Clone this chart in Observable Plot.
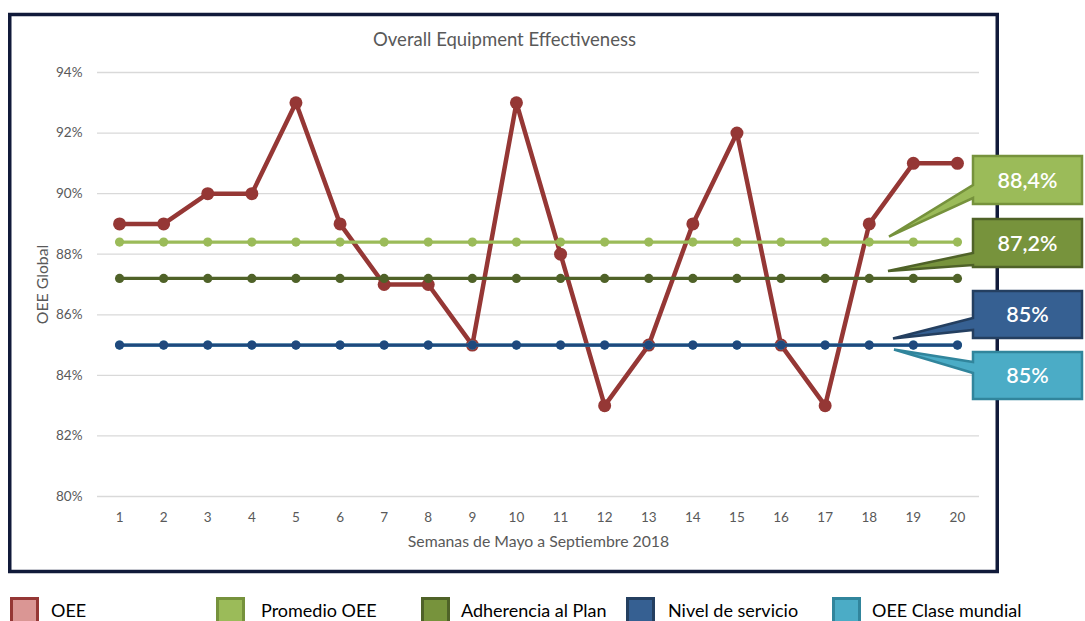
<!DOCTYPE html>
<html>
<head>
<meta charset="utf-8">
<script src="https://cdn.jsdelivr.net/npm/d3@7"></script>
<script src="https://cdn.jsdelivr.net/npm/@observablehq/plot@0.6"></script>
<style>
  html, body { margin: 0; padding: 0; background: #fff; overflow: hidden; }
  #wrap { position: relative; width: 1085px; height: 621px; font-family: Lato, "Open Sans", sans-serif; }
  #legend { position: absolute; left: 0; top: 590px; width: 1085px; height: 31px; }
  .item { position: absolute; top: 7px; height: 29px; }
  .sw { position: absolute; top: 0; width: 23px; height: 23px; border: 3px solid; }
  .lab { position: absolute; top: 2px; font-size: 18px; color: #000; white-space: nowrap; line-height: 22px; }
</style>
</head>
<body>
<div id="wrap"><div id="chart"></div><div id="legend"></div></div>
<script>
// ---------- data ----------
const weeks = [1,2,3,4,5,6,7,8,9,10,11,12,13,14,15,16,17,18,19,20];
const oee = [89,89,90,90,93,89,87,87,85,93,88,83,85,89,92,85,83,89,91,91];
const promedioOEE = [88.4,88.4,88.4,88.4,88.4,88.4,88.4,88.4,88.4,88.4,88.4,88.4,88.4,88.4,88.4,88.4,88.4,88.4,88.4,88.4];
const adherencia = [87.2,87.2,87.2,87.2,87.2,87.2,87.2,87.2,87.2,87.2,87.2,87.2,87.2,87.2,87.2,87.2,87.2,87.2,87.2,87.2];
const nivelServicio = [85,85,85,85,85,85,85,85,85,85,85,85,85,85,85,85,85,85,85,85];
const claseMundial = [85,85,85,85,85,85,85,85,85,85,85,85,85,85,85,85,85,85,85,85];
const yTicks = [80,82,84,86,88,90,92,94];
const seriesNames = ["OEE","Promedio OEE","Adherencia al Plan","Nivel de servicio","OEE Clase mundial"];
const title = "Overall Equipment Effectiveness";
const xTitle = "Semanas de Mayo a Septiembre 2018";
const yTitle = "OEE Global";

// ---------- styles ----------
const col = {
  oee: "#953735",
  prom: "#9bbb59",
  adh: "#4f6228",
  niv: "#1f497d",
  cla: "#4bacc6"
};
const toRows = arr => weeks.map((w, i) => ({week: w, v: arr[i]}));
const textCol = "#595959";

const constSeries = [
  {rows: toRows(claseMundial), c: col.cla},
  {rows: toRows(promedioOEE), c: col.prom},
  {rows: toRows(adherencia), c: col.adh},
  {rows: toRows(nivelServicio), c: col.niv}
];

const chart = Plot.plot({
  width: 1085,
  height: 590,
  marginLeft: 97,
  marginRight: 106,
  marginTop: 72,
  marginBottom: 94,
  x: {type: "linear", domain: [0.5, 20.5], axis: null},
  y: {domain: [80, 94], axis: null},
  style: {fontFamily: "Lato, 'Open Sans', sans-serif", background: "white", overflow: "visible"},
  marks: [
    Plot.ruleY(yTicks, {stroke: "#d9d9d9", strokeWidth: 1.3}),
    Plot.text(yTicks, {y: d => d, frameAnchor: "left", dx: -15, textAnchor: "end", lineAnchor: "middle", text: d => d + "%", fill: textCol, fontSize: 13.5}),
    Plot.text(weeks, {x: d => d, frameAnchor: "bottom", dy: 21, lineAnchor: "middle", text: d => String(d), fill: textCol, fontSize: 13.5}),
    Plot.text([xTitle], {frameAnchor: "bottom", dy: 45, lineAnchor: "middle", text: d => d, fill: textCol, fontSize: 15.8}),
    Plot.text([yTitle], {frameAnchor: "left", dx: -55, rotate: -90, textAnchor: "middle", lineAnchor: "middle", text: d => d, fill: textCol, fontSize: 15.8}),
    Plot.text([title], {frameAnchor: "top", dy: -32, dx: -34, lineAnchor: "middle", text: d => d, fill: textCol, fontSize: 18.5}),
    Plot.line(toRows(oee), {x: "week", y: "v", stroke: col.oee, strokeWidth: 4.5}),
    Plot.dot(toRows(oee), {x: "week", y: "v", r: 6.5, fill: col.oee}),
    ...constSeries.flatMap(s => [
      Plot.line(s.rows, {x: "week", y: "v", stroke: s.c, strokeWidth: 3.2}),
      Plot.dot(s.rows, {x: "week", y: "v", r: 4.6, fill: s.c})
    ])
  ]
});

// frame border (chart area)
const svg = d3.select(chart);
svg.insert("rect", ":first-child")
  .attr("x", 9.75).attr("y", 14.5).attr("width", 987.5).attr("height", 557)
  .attr("fill", "none").attr("stroke", "#111a3a").attr("stroke-width", 3.5);

// callouts
const yS = chart.scale("y");
const fmt = v => Number.isInteger(v) ? String(v) : v.toFixed(1).replace(".", ",");
const callouts = [
  {v: promedioOEE[0], fill: "#9bbb59", stroke: "#76923c", top: 156, h: 48, b0: 185, b1: 198, tipX: 889, tipDy: -5},
  {v: adherencia[0], fill: "#77933c", stroke: "#4f6228", top: 219, h: 48, b0: 253, b1: 265, tipX: 888, tipDy: -7},
  {v: nivelServicio[0], fill: "#366092", stroke: "#243f60", top: 291, h: 47, b0: 318, b1: 330, tipX: 893, tipDy: -6},
  {v: claseMundial[0], fill: "#4bacc6", stroke: "#31859c", top: 352, h: 47, b0: 362, b1: 373, tipX: 894, tipDy: 5}
];
const bx0 = 973, bx1 = 1082;
const g = svg.append("g");
callouts.forEach(c => {
  const ty = yS.apply(c.v) + c.tipDy;
  const p = `M${bx0},${c.top} L${bx1},${c.top} L${bx1},${c.top + c.h} L${bx0},${c.top + c.h} L${bx0},${c.b1} L${c.tipX},${ty} L${bx0},${c.b0} Z`;
  g.append("path").attr("d", p).attr("fill", c.fill).attr("stroke", c.stroke).attr("stroke-width", 2.5).attr("stroke-linejoin", "miter");
  g.append("text").attr("x", (bx0 + bx1) / 2).attr("y", c.top + c.h / 2).attr("dy", "0.36em")
    .attr("text-anchor", "middle").attr("fill", "white").attr("font-size", 21.5).attr("font-weight", 600)
    .text(fmt(c.v) + "%");
});

document.getElementById("chart").appendChild(chart);

// legend
const legendItems = [
  {name: seriesNames[0], fill: "#da9694", stroke: "#953735", left: 10, tx: 41},
  {name: seriesNames[1], fill: "#9bbb59", stroke: "#76923c", left: 216, tx: 45},
  {name: seriesNames[2], fill: "#77933c", stroke: "#4f6228", left: 421, tx: 40},
  {name: seriesNames[3], fill: "#366092", stroke: "#243f60", left: 626, tx: 42},
  {name: seriesNames[4], fill: "#4bacc6", stroke: "#31859c", left: 832, tx: 40}
];
const leg = d3.select("#legend");
legendItems.forEach(it => {
  const d = leg.append("div").attr("class", "item").style("left", it.left + "px");
  d.append("div").attr("class", "sw").style("background", it.fill).style("border-color", it.stroke);
  d.append("div").attr("class", "lab").style("left", it.tx + "px").text(it.name);
});
</script>
</body>
</html>
